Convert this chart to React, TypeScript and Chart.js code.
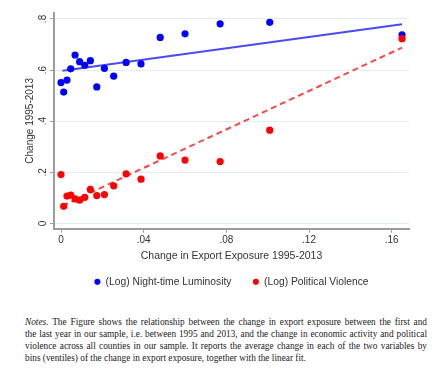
import React, { useEffect, useRef } from "react";
import { Chart, registerables } from "chart.js";

Chart.register(...registerables);

// Bins (ventiles) of the change in export exposure 1995-2013
const exposureBins = [0.0, 0.0013, 0.0029, 0.0047, 0.0068, 0.009, 0.0115, 0.0142, 0.0173, 0.021, 0.0255, 0.0315, 0.0387, 0.048, 0.06, 0.077, 0.101, 0.165];
const luminosity = [0.551, 0.514, 0.561, 0.605, 0.659, 0.633, 0.619, 0.637, 0.534, 0.607, 0.576, 0.63, 0.624, 0.728, 0.742, 0.781, 0.787, 0.738];
const violence = [0.191, 0.067, 0.107, 0.111, 0.096, 0.091, 0.102, 0.133, 0.109, 0.113, 0.147, 0.194, 0.173, 0.264, 0.248, 0.242, 0.365, 0.723];

// Linear fit end points
const fitX = [0.0007, 0.165];
const luminosityFit = [0.597, 0.779];
const violenceFit = [0.069, 0.688];

const xTicks = [0, 0.04, 0.08, 0.12, 0.16];
const yTicks = [0, 0.2, 0.4, 0.6, 0.8];
const seriesLabels = ["(Log) Night-time Luminosity", "(Log) Political Violence"];
const xTitle = "Change in Export Exposure 1995-2013";
const yTitle = "Change 1995-2013";

const noteLines = [
  "The Figure shows the relationship between the change in export exposure between the first and",
  "the last year in our sample, i.e. between 1995 and 2013, and the change in economic activity and political",
  "violence across all counties in our sample. It reports the average change in each of the two variables by",
  "bins (ventiles) of the change in export exposure, together with the linear fit.",
];

const fmt = (v: number) => {
  const s = Number(Number(v).toFixed(2)).toString();
  return s === "0" ? "0" : s.replace(/^0\./, ".").replace(/^-0\./, "-.");
};

const SANS = '"Liberation Sans", Arial, Helvetica, sans-serif';
const AXIS = "#9c9c9c";
const TEXT = "#333333";

export default function App() {
  const ref = useRef<HTMLCanvasElement>(null);

  useEffect(() => {
    const chart = new Chart(ref.current as HTMLCanvasElement, {
      type: "scatter",
      data: {
        datasets: [
          {
            label: seriesLabels[0],
            data: exposureBins.map((x, i) => ({ x, y: luminosity[i] })),
            backgroundColor: "#0000ff",
            borderColor: "#0000ff",
            borderWidth: 0,
            pointRadius: 3.6,
            pointBorderWidth: 0,
            order: 2,
          },
          {
            label: seriesLabels[1],
            data: exposureBins.map((x, i) => ({ x, y: violence[i] })),
            backgroundColor: "#ff0000",
            borderColor: "#ff0000",
            borderWidth: 0,
            pointRadius: 3.6,
            pointBorderWidth: 0,
            order: 1,
          },
          {
            label: "fit1",
            data: fitX.map((x, i) => ({ x, y: luminosityFit[i] })),
            showLine: true,
            pointRadius: 0,
            borderColor: "#4a4af5",
            borderWidth: 2,
            order: 3,
          },
          {
            label: "fit2",
            data: fitX.map((x, i) => ({ x, y: violenceFit[i] })),
            showLine: true,
            pointRadius: 0,
            borderColor: "#f24a4a",
            borderWidth: 2,
            borderDash: [6, 4],
            order: 4,
          },
        ],
      },
      options: {
        animation: false,
        responsive: false,
        layout: { padding: { left: 0, right: 34, top: 13, bottom: 3 } },
        plugins: {
          tooltip: { enabled: false },
          legend: {
            position: "bottom",
            fullSize: false,
            labels: {
              usePointStyle: true,
              pointStyle: "circle",
              boxWidth: 6,
              boxHeight: 4.3,
              padding: 10,
              color: TEXT,
              font: { family: SANS, size: 10.3 },
              sort: (a: any, b: any) => a.datasetIndex - b.datasetIndex,
              generateLabels: (c: any) =>
                Chart.defaults.plugins.legend.labels
                  .generateLabels(c)
                  .filter((it: any) => it.datasetIndex < 2)
                  .map((it: any) => ({ ...it, text: it.datasetIndex === 0 ? it.text + "    " : it.text })),
            },
          },
        },
        scales: {
          x: {
            type: "linear",
            min: -0.00339,
            max: 0.16837,
            afterBuildTicks: (s: any) => {
              s.ticks = xTicks.map((value) => ({ value }));
            },
            afterFit: (s: any) => {
              s.height = 38;
            },
            border: { color: AXIS, width: 2 },
            grid: { drawOnChartArea: false, tickColor: AXIS, tickLength: 4, tickWidth: 1 },
            ticks: {
              maxRotation: 0,
              padding: 2,
              color: TEXT,
              font: { family: SANS, size: 10 },
              callback: (v: any) => fmt(v),
            },
            title: {
              display: true,
              text: xTitle,
              color: TEXT,
              font: { family: SANS, size: 10.5 },
              padding: { top: 0, bottom: 4 },
            },
          },
          y: {
            type: "linear",
            min: -0.0207,
            max: 0.8234,
            afterBuildTicks: (s: any) => {
              s.ticks = yTicks.map((value) => ({ value }));
            },
            afterFit: (s: any) => {
              s.width = 54;
            },
            border: { color: AXIS, width: 2 },
            grid: { color: "#e3eded", lineWidth: 1, tickColor: AXIS, tickLength: 4, tickWidth: 1 },
            ticks: {
              minRotation: 90,
              maxRotation: 90,
              crossAlign: "center",
              padding: 3,
              color: TEXT,
              font: { family: SANS, size: 10 },
              callback: (v: any) => fmt(v),
            },
            title: {
              display: true,
              text: yTitle,
              color: TEXT,
              font: { family: SANS, size: 10 },
              padding: { top: 24, bottom: 0 },
            },
          },
        },
      } as any,
    });
    return () => chart.destroy();
  }, []);

  return (
    <div style={{ position: "absolute", left: 0, top: 0, width: 443, height: 371, background: "#fff" }}>
      <canvas ref={ref} width={443} height={300} style={{ position: "absolute", left: 0, top: 0 }} />
      <div
        style={{
          position: "absolute",
          left: 25,
          top: 316,
          width: 402,
          fontFamily: '"Liberation Serif", "Times New Roman", serif',
          fontSize: 9.3,
          lineHeight: "12px",
          color: "#222",
        }}
      >
        {noteLines.map((line, i) => (
          <div key={i} style={{ textAlign: "justify", textAlignLast: i < noteLines.length - 1 ? "justify" : "left" }}>
            {i === 0 ? (
              <>
                <i>Notes.</i> {line}
              </>
            ) : (
              line
            )}
          </div>
        ))}
      </div>
    </div>
  );
}
